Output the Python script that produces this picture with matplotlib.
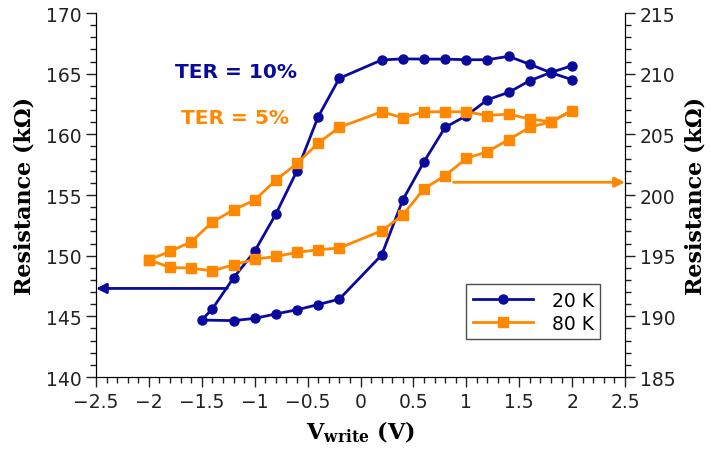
import matplotlib
matplotlib.use("Agg")
import matplotlib.pyplot as plt
from matplotlib.ticker import MultipleLocator

# 20 K loop (left axis, kOhm)
v20_down = [2.0, 1.8, 1.6, 1.4, 1.2, 1.0, 0.8, 0.6, 0.4, 0.2,
            -0.2, -0.4, -0.6, -0.8, -1.0, -1.2, -1.5]
r20_down = [165.66, 165.10, 164.42, 163.46, 162.85, 161.53, 160.58, 157.74, 154.60, 150.05,
            146.42, 145.97, 145.54, 145.20, 144.83, 144.65, 144.69]
v20_up = [-1.4, -1.2, -1.0, -0.8, -0.6, -0.4, -0.2, 0.2, 0.4, 0.6,
          0.8, 1.0, 1.2, 1.4, 1.6, 1.8, 2.0]
r20_up = [145.62, 148.17, 150.37, 153.43, 157.00, 161.45, 164.62, 166.13, 166.22, 166.20,
          166.20, 166.15, 166.15, 166.43, 165.77, 165.08, 164.50]

# 80 K loop (right axis, kOhm)
v80_up = [-2.0, -1.8, -1.6, -1.4, -1.2, -1.0, -0.8, -0.6, -0.4, -0.2,
          0.2, 0.4, 0.6, 0.8, 1.0, 1.2, 1.4, 1.6, 1.8, 2.0]
r80_up = [194.66, 195.35, 196.15, 197.77, 198.78, 199.58, 201.23, 202.60, 204.28, 205.58,
          206.86, 206.37, 206.86, 206.86, 206.86, 206.55, 206.67, 206.26, 206.04, 206.95]
v80_down = [1.8, 1.6, 1.4, 1.2, 1.0, 0.8, 0.6, 0.4, 0.2,
            -0.2, -0.4, -0.6, -0.8, -1.0, -1.2, -1.4, -1.6, -1.8, -2.0]
r80_down = [206.04, 205.58, 204.56, 203.57, 203.02, 201.59, 200.52, 198.35, 197.05,
            195.63, 195.49, 195.27, 194.94, 194.70, 194.25, 193.75, 193.97, 194.03, 194.66]

series_labels = ["20 K", "80 K"]
ter_labels = ["TER = 10%", "TER = 5%"]

blue = "#0a0a9c"
orange = "#ff8800"

plt.rcParams["mathtext.fontset"] = "dejavuserif"

fig = plt.figure(figsize=(7.11, 4.52), dpi=100)
ax = fig.add_axes([96 / 711, 1 - 378 / 452, 529 / 711, 364 / 452])
ax2 = ax.twinx()

l1, = ax.plot(v20_down + v20_up, r20_down + r20_up, color=blue, lw=2.0,
              marker="o", markersize=6.5, label=series_labels[0])
l2, = ax2.plot(v80_up + v80_down, r80_up + r80_down, color=orange, lw=2.0,
               marker="s", markersize=7, label=series_labels[1])

ax.set_xlim(-2.5, 2.5)
ax.set_ylim(140, 170)
ax2.set_ylim(185, 215)

for a in (ax, ax2):
    a.spines["top"].set_visible(False)
    a.xaxis.set_major_locator(MultipleLocator(0.5))
    a.xaxis.set_minor_locator(MultipleLocator(0.1))
    a.yaxis.set_major_locator(MultipleLocator(5))
    a.yaxis.set_minor_locator(MultipleLocator(1))
    a.tick_params(which="major", direction="out", length=7, width=1.0,
                  labelsize=13.5, colors="#222222")
    a.tick_params(which="minor", direction="out", length=4, width=1.0,
                  colors="#222222")

ax.xaxis.set_major_formatter(plt.FuncFormatter(
    lambda v, p: ("%g" % v).replace("-", "\u2212")))

label_font = dict(family="DejaVu Serif", weight="bold", size=16)
ax.set_ylabel("Resistance (k\u03a9)", labelpad=7, **label_font)
ax2.set_ylabel("Resistance (k\u03a9)", labelpad=7, **label_font)
ax.set_xlabel(r"$\mathbf{V}_{\mathbf{write}}$ (V)", labelpad=6, **label_font)

ax.text(-1.18, 165.2, ter_labels[0], color=blue, fontsize=14.5,
        fontweight="bold", ha="center", va="center")
ax.text(-1.19, 161.4, ter_labels[1], color=orange, fontsize=14.5,
        fontweight="bold", ha="center", va="center")

arrow_style = "-|>,head_length=0.6,head_width=0.3"
ax.annotate("", xy=(-2.5, 147.3), xytext=(-1.26, 147.3),
            arrowprops=dict(arrowstyle=arrow_style, color=blue, lw=2,
                            shrinkA=0, shrinkB=0))
ax2.annotate("", xy=(2.5, 201.05), xytext=(0.88, 201.05),
             arrowprops=dict(arrowstyle=arrow_style, color=orange, lw=2,
                             shrinkA=0, shrinkB=0))

leg = ax2.legend(handles=[l1, l2], loc="lower right",
                 bbox_to_anchor=(0.953, 0.104), fontsize=13.5,
                 frameon=True, fancybox=False, edgecolor="#222222",
                 handlelength=3.2, borderpad=0.35, labelspacing=0.2,
                 handletextpad=1.0, borderaxespad=0)
leg.get_frame().set_linewidth(1.0)

fig.savefig("out.png", dpi=100)
